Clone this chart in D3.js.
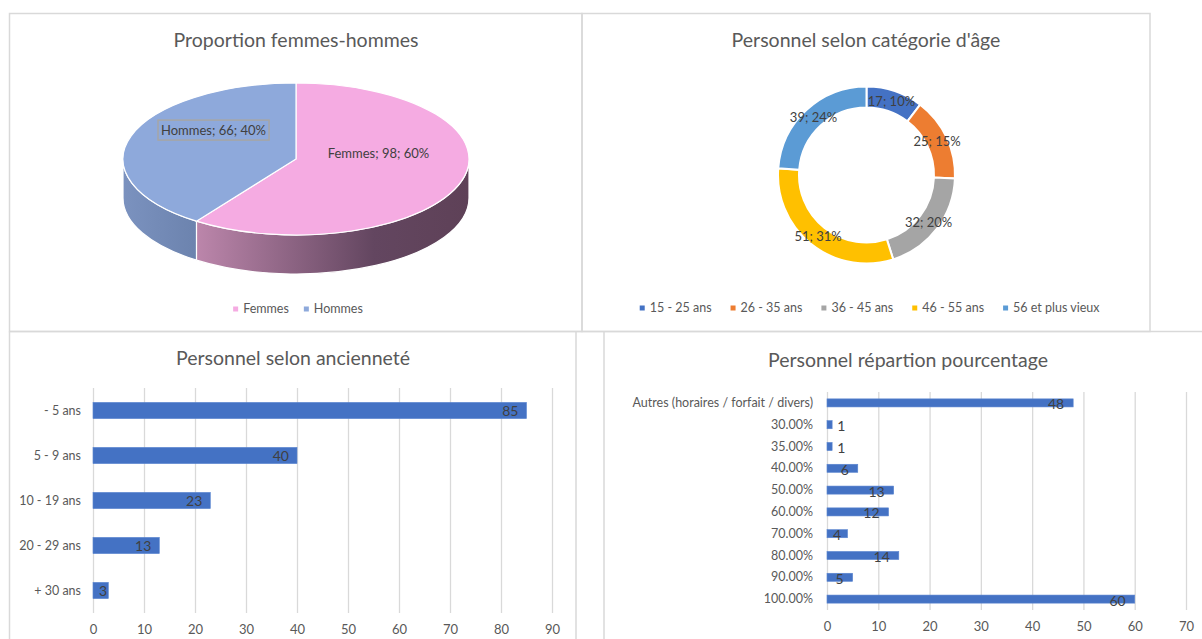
<!DOCTYPE html>
<html>
<head>
<meta charset="utf-8">
<script src="https://cdn.jsdelivr.net/npm/d3@7"></script>
<style>
  body { margin: 0; background: #fff; }
  svg { display: block; font-family: Lato, "Liberation Sans", sans-serif; }
</style>
</head>
<body>
<svg id="chart" width="1202" height="639"></svg>
<script>

// Data
var sexLabels = ["Femmes", "Hommes"];
var sexValues = [98, 66];
var sexColors = ["#f5abe2", "#8ea9db"];

var ageLabels = ["15 - 25 ans", "26 - 35 ans", "36 - 45 ans", "46 - 55 ans", "56 et plus vieux"];
var ageValues = [17, 25, 32, 51, 39];
var ageColors = ["#4472c4", "#ed7d31", "#a5a5a5", "#ffc000", "#5b9bd5"];

var seniorityLabels = ["- 5 ans", "5 - 9 ans", "10 - 19 ans", "20 - 29 ans", "+ 30 ans"];
var seniorityValues = [85, 40, 23, 13, 3];
var seniorityTicks = [0, 10, 20, 30, 40, 50, 60, 70, 80, 90];

var rateLabels = ["Autres (horaires / forfait / divers)", "30.00%", "35.00%", "40.00%", "50.00%",
                  "60.00%", "70.00%", "80.00%", "90.00%", "100.00%"];
var rateValues = [48, 1, 1, 6, 13, 12, 4, 14, 5, 60];
var rateTicks = [0, 10, 20, 30, 40, 50, 60, 70];

var textColor = "#595959";
var labelColor = "#404040";
var gridColor = "#d9d9d9";
var barColor = "#4472c4";
var smallFont = "12.5px";

var svg = d3.select("#chart");
var pct = d3.format(".0%");

// Panel borders
var borders = svg.append("g")
    .attr("fill", "none")
    .attr("stroke", "#d9d9d9")
    .attr("stroke-width", 1.5);
borders.append("rect").attr("x", 9.5).attr("y", 13.5).attr("width", 572.5).attr("height", 318);
borders.append("rect").attr("x", 582).attr("y", 13.5).attr("width", 568).attr("height", 318);
borders.append("line").attr("x1", 9.5).attr("x2", 1202).attr("y1", 331.5).attr("y2", 331.5);
borders.append("line").attr("x1", 9.5).attr("x2", 9.5).attr("y1", 331.5).attr("y2", 639);
borders.append("line").attr("x1", 576).attr("x2", 576).attr("y1", 331.5).attr("y2", 639);
borders.append("line").attr("x1", 604).attr("x2", 604).attr("y1", 331.5).attr("y2", 639);

function title(x, y, txt) {
    svg.append("text")
        .attr("x", x).attr("y", y)
        .attr("text-anchor", "middle")
        .attr("dy", "0.35em")
        .style("font-size", "19.5px")
        .style("fill", textColor)
        .text(txt);
}

// Legend centred on cx, small square markers
function legend(cx, y, labels, colors, gap) {
    var g = svg.append("g");
    var items = g.selectAll("g").data(labels).enter().append("g");
    items.append("rect")
        .attr("width", 5).attr("height", 5)
        .attr("y", -2.5)
        .attr("fill", function (d, i) { return colors[i]; });
    items.append("text")
        .attr("x", 10)
        .attr("dy", "0.35em")
        .style("font-size", smallFont)
        .style("fill", textColor)
        .text(function (d) { return d; });
    var x = 0;
    items.each(function () {
        var w = this.getBBox().width;
        d3.select(this).attr("transform", "translate(" + x + ",0)");
        x += w + gap;
    });
    var total = x - gap;
    g.attr("transform", "translate(" + (cx - total / 2) + "," + y + ")");
}

// ---------- 3D pie: Proportion femmes-hommes ----------
title(296, 40, "Proportion femmes-hommes");

var pcx = 296, pcy = 159, rx = 173, ry = 76, depth = 39;
var sexTotal = d3.sum(sexValues);
var pie = d3.pie().sort(null).value(function (d) { return d; });
var sexArcs = pie(sexValues);

var defs = svg.append("defs");
var gF = defs.append("linearGradient").attr("id", "sideF");
gF.append("stop").attr("offset", "0%").attr("stop-color", "#bc86ab");
gF.append("stop").attr("offset", "65%").attr("stop-color", "#634660");
gF.append("stop").attr("offset", "100%").attr("stop-color", "#5e4157");
var gH = defs.append("linearGradient").attr("id", "sideH");
gH.append("stop").attr("offset", "0%").attr("stop-color", "#7b92bf");
gH.append("stop").attr("offset", "100%").attr("stop-color", "#6c83ae");
var sideFills = ["url(#sideF)", "url(#sideH)"];

function ept(a, dy) {
    return [pcx + rx * Math.sin(a), pcy - ry * Math.cos(a) + (dy || 0)];
}

// Side walls: only the front half (angles PI/2 .. 3PI/2) is visible
var side = svg.append("g");
sexArcs.forEach(function (d, i) {
    var a0 = Math.max(d.startAngle, Math.PI / 2);
    var a1 = Math.min(d.endAngle, 3 * Math.PI / 2);
    if (a1 <= a0) return;
    var p0 = ept(a0), p1 = ept(a1), q1 = ept(a1, depth), q0 = ept(a0, depth);
    var large = (a1 - a0) > Math.PI ? 1 : 0;
    var path = "M" + p0 + "A" + rx + "," + ry + " 0 " + large + " 1 " + p1 +
        "L" + q1 + "A" + rx + "," + ry + " 0 " + large + " 0 " + q0 + "Z";
    side.append("path")
        .attr("d", path)
        .attr("fill", sideFills[i])
        .attr("stroke", "#ffffff")
        .attr("stroke-width", 1.2)
        .attr("stroke-linejoin", "round");
});

// Top face drawn as a circle squashed into an ellipse
var pieArc = d3.arc().innerRadius(0).outerRadius(rx);
var topFace = svg.append("g")
    .attr("transform", "translate(" + pcx + "," + pcy + ") scale(1," + (ry / rx) + ")");
topFace.selectAll("path")
    .data(sexArcs)
    .enter().append("path")
    .attr("d", pieArc)
    .attr("fill", function (d, i) { return sexColors[i]; })
    .attr("stroke", "#ffffff")
    .attr("stroke-width", 1.2)
    .attr("vector-effect", "non-scaling-stroke");

// Data labels ("Catégorie; valeur; pourcentage")
sexArcs.forEach(function (d, i) {
    var c = pieArc.centroid(d);
    var lx = pcx + c[0];
    var ly = pcy + c[1] * ry / rx - 17;
    var t = svg.append("text")
        .attr("x", lx).attr("y", ly)
        .attr("text-anchor", "middle")
        .attr("dy", "0.35em")
        .style("font-size", "13px")
        .style("fill", labelColor)
        .text(sexLabels[i] + "; " + sexValues[i] + "; " + pct(sexValues[i] / sexTotal));
    if (sexLabels[i] === "Hommes") {
        var bb = t.node().getBBox();
        svg.insert("rect", function () { return t.node(); })
            .attr("x", bb.x - 3).attr("y", bb.y - 2)
            .attr("width", bb.width + 6).attr("height", bb.height + 4)
            .attr("fill", "none")
            .attr("stroke", "#a6a6a6")
            .attr("stroke-width", 1.5);
    }
});

legend(298, 309, sexLabels, sexColors, 15);

// ---------- Donut: Personnel selon catégorie d'âge ----------
title(866, 40, "Personnel selon catégorie d'âge");

var dcx = 866.5, dcy = 175;
var ageTotal = d3.sum(ageValues);
var ageArcs = pie(ageValues);
var donutArc = d3.arc().innerRadius(67.5).outerRadius(88.5);
var donutLabelArc = d3.arc().innerRadius(78).outerRadius(78);

var donut = svg.append("g").attr("transform", "translate(" + dcx + "," + dcy + ")");
donut.selectAll("path")
    .data(ageArcs)
    .enter().append("path")
    .attr("d", donutArc)
    .attr("fill", function (d, i) { return ageColors[i]; })
    .attr("stroke", "#ffffff")
    .attr("stroke-width", 2);
donut.selectAll("text")
    .data(ageArcs)
    .enter().append("text")
    .attr("transform", function (d) { return "translate(" + donutLabelArc.centroid(d) + ")"; })
    .attr("text-anchor", "middle")
    .attr("dy", "0.35em")
    .style("font-size", "13px")
    .style("fill", labelColor)
    .text(function (d, i) { return ageValues[i] + "; " + pct(ageValues[i] / ageTotal); });

legend(870, 308, ageLabels, ageColors, 19);

// ---------- Horizontal bar charts ----------
function barChart(opt) {
    var x = d3.scaleLinear().domain(opt.domain).range([opt.left, opt.right]);
    var y = d3.scaleBand().domain(opt.labels).range([opt.top, opt.bottom])
        .paddingInner(opt.padding).paddingOuter(opt.padding / 2);

    var grid = svg.append("g")
        .attr("transform", "translate(0," + opt.bottom + ")")
        .call(d3.axisBottom(x).tickValues(opt.ticks).tickSize(-(opt.bottom - opt.top)).tickPadding(12));
    grid.select(".domain").remove();
    grid.selectAll("line").attr("stroke", gridColor).attr("stroke-width", 1.3);
    grid.selectAll("text")
        .style("font-size", "13px")
        .style("font-family", "Lato, 'Liberation Sans', sans-serif")
        .style("fill", textColor);

    var yAx = svg.append("g")
        .attr("transform", "translate(" + opt.left + ",0)")
        .call(d3.axisLeft(y).tickSize(0).tickPadding(opt.labelPad));
    yAx.select(".domain").remove();
    yAx.selectAll("text")
        .style("font-size", smallFont)
        .style("font-family", "Lato, 'Liberation Sans', sans-serif")
        .style("fill", textColor);

    var rows = opt.labels.map(function (l, i) { return { label: l, value: opt.values[i] }; });

    svg.append("g").selectAll("rect")
        .data(rows)
        .enter().append("rect")
        .attr("x", x(0))
        .attr("y", function (d) { return y(d.label); })
        .attr("width", function (d) { return x(d.value) - x(0); })
        .attr("height", y.bandwidth())
        .attr("fill", barColor)
        .attr("stroke", "#5a85d0")
        .attr("stroke-width", 0.6);

    svg.append("g").selectAll("text")
        .data(rows)
        .enter().append("text")
        .attr("x", function (d) {
            var w = x(d.value) - x(0);
            if (w < 6) return x(d.value) + 5;
            return Math.max(x(d.value) - opt.inset, x(0) + 14);
        })
        .attr("text-anchor", function (d) { return (x(d.value) - x(0)) < 6 ? "start" : "end"; })
        .attr("y", function (d) { return y(d.label) + y.bandwidth() / 2 + opt.labelShift; })
        .attr("dy", "0.35em")
        .style("font-size", "14px")
        .style("fill", labelColor)
        .text(function (d) { return d.value; });
}

title(293, 358, "Personnel selon ancienneté");
barChart({
    labels: seniorityLabels, values: seniorityValues, ticks: seniorityTicks,
    domain: [0, 90], left: 93, right: 552, top: 388, bottom: 613,
    padding: 0.64, labelPad: 12, inset: 8, labelShift: 0.5
});

title(908, 360, "Personnel répartion pourcentage");
barChart({
    labels: rateLabels, values: rateValues, ticks: rateTicks,
    domain: [0, 70], left: 827, right: 1186, top: 392, bottom: 610,
    padding: 0.63, labelPad: 14, inset: 9, labelShift: 1.5
});

</script>
</body>
</html>
